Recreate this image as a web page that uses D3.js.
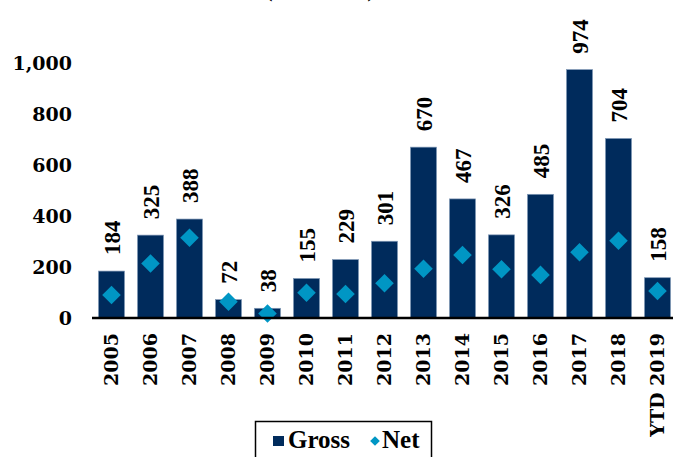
<!DOCTYPE html>
<html>
<head>
<meta charset="utf-8">
<script src="https://cdn.jsdelivr.net/npm/d3@7"></script>
<style>
  html, body { margin: 0; padding: 0; background: #fff; }
  svg { display: block; }
</style>
</head>
<body>
<svg id="chart" width="673" height="457"></svg>
<script>
const categories = ["2005","2006","2007","2008","2009","2010","2011","2012","2013","2014","2015","2016","2017","2018","YTD 2019"];
const gross = [184, 325, 388, 72, 38, 155, 229, 301, 670, 467, 326, 485, 974, 704, 158];
const net = [90, 214, 315, 64, 18, 99, 94, 136, 193, 247, 191, 169, 258, 303, 106];
const yTicks = [0, 200, 400, 600, 800, 1000];
const seriesNames = ["Gross", "Net"];
const title = "(US$ billion)";

const svg = d3.select("#chart");
const navy = "#002B5C";
const teal = "#0096C4";
const axisFont = "'DejaVu Serif', serif";
const labelFont = "'Liberation Serif', 'Times New Roman', serif";

const x = d3.scaleBand().domain(categories).range([92, 677]).paddingInner(0.333).paddingOuter(0.1665);
const y = d3.scaleLinear().domain([0, 1000]).range([318, 63]);

// Title (cut off at top, as in the reference)
svg.append("text")
  .attr("x", 320).attr("y", -3)
  .attr("text-anchor", "middle")
  .style("font-family", labelFont).style("font-weight", "bold").style("font-size", "20px")
  .text(title);

// Y axis labels
const yAxis = d3.axisLeft(y).tickValues(yTicks).tickSize(0).tickPadding(0).tickFormat(d3.format(","));
const yg = svg.append("g").attr("transform", "translate(72,0)").call(yAxis);
yg.select(".domain").remove();
yg.selectAll("text")
  .style("font-family", axisFont).style("font-weight", "bold").style("font-size", "19px")
  .attr("fill", "#000");

// Bars
svg.append("g").selectAll("rect").data(categories).join("rect")
  .attr("x", d => x(d))
  .attr("width", x.bandwidth())
  .attr("y", (d, i) => y(gross[i]))
  .attr("height", (d, i) => y(0) - y(gross[i]))
  .attr("fill", navy)
  .attr("stroke", "#7f97b5")
  .attr("stroke-width", 0.7);

// Net diamonds
const diamond = d3.symbol().type(d3.symbolDiamond2).size(130);
svg.append("g").selectAll("path").data(categories).join("path")
  .attr("d", diamond)
  .attr("transform", (d, i) => `translate(${x(d) + x.bandwidth() / 2},${y(net[i])}) scale(1.3,1.3)`)
  .attr("fill", teal);

// X axis
const xAxis = d3.axisBottom(x).tickSize(0).tickPadding(0);
const xg = svg.append("g").attr("transform", "translate(0,318)").call(xAxis);
xg.select(".domain").attr("stroke", "#000").attr("stroke-width", 2.5).attr("d", "M92,0H673");
xg.selectAll("text")
  .attr("transform", "translate(0,15) rotate(-90)")
  .attr("x", 0).attr("y", 0).attr("dy", "0.36em")
  .attr("text-anchor", "end")
  .attr("fill", "#000")
  .style("font-family", axisFont).style("font-weight", "bold").style("font-size", "19px");

// Data labels
svg.append("g").selectAll("text").data(categories).join("text")
  .attr("transform", (d, i) => `translate(${x(d) + x.bandwidth() / 2},${y(gross[i]) - 16}) rotate(-90)`)
  .attr("dy", "0.35em")
  .attr("text-anchor", "start")
  .style("font-family", labelFont).style("font-weight", "bold").style("font-size", "23px")
  .attr("fill", "#000")
  .text((d, i) => gross[i]);

// Legend
const lg = svg.append("g");
lg.append("rect").attr("x", 255.5).attr("y", 421.5).attr("width", 176).attr("height", 60)
  .attr("fill", "#fff").attr("stroke", "#000").attr("stroke-width", 1.5);
lg.append("rect").attr("x", 273).attr("y", 436).attr("width", 11).attr("height", 10).attr("fill", navy);
lg.append("text").attr("x", 288).attr("y", 448)
  .style("font-family", labelFont).style("font-weight", "bold").style("font-size", "25px")
  .text(seriesNames[0]);
lg.append("path").attr("d", d3.symbol().type(d3.symbolDiamond2).size(60))
  .attr("transform", "translate(375,441)").attr("fill", teal);
lg.append("text").attr("x", 382).attr("y", 448)
  .style("font-family", labelFont).style("font-weight", "bold").style("font-size", "25px")
  .text(seriesNames[1]);
</script>
</body>
</html>
